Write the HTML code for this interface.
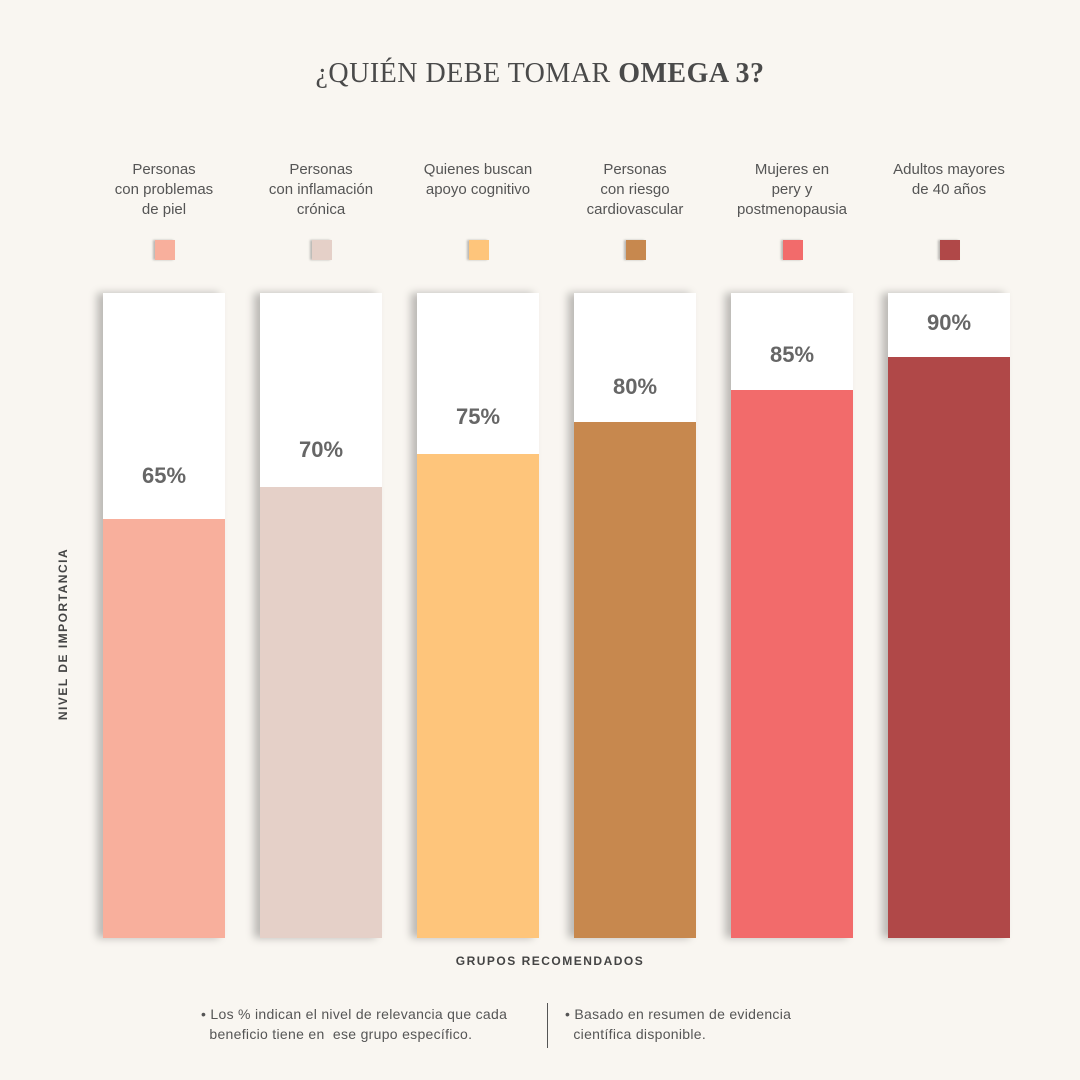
<!DOCTYPE html>
<html><head><meta charset="utf-8"><style>
*{margin:0;padding:0;box-sizing:border-box}
body{width:1080px;height:1080px;position:relative;overflow:hidden;background:#f9f6f1;font-family:"Liberation Sans",sans-serif;color:#555}
.t{position:absolute;left:0;width:1080px;top:58px;text-align:center;font-family:"Liberation Serif",serif;font-size:28px;color:#4a4a4a;letter-spacing:0.5px}
.lab{position:absolute;top:160px;width:150px;text-align:center;font-size:15px;line-height:20px;color:#555}
.sq{position:absolute;top:240px;width:20px;height:20px;box-shadow:-2px 0 2px rgba(0,0,0,0.25)}
.bar{position:absolute;top:293px;width:122px;height:645px;background:#fff;box-shadow:-6px 0 8px rgba(0,0,0,0.25)}
.bar .f{position:absolute;left:0;right:0;bottom:0}
.bar .p{position:absolute;left:0;right:0;text-align:center;font-size:22px;font-weight:bold;color:#666}
.yl{position:absolute;left:63px;top:634px;transform:translate(-50%,-50%) rotate(-90deg);font-size:12px;font-weight:bold;letter-spacing:1.5px;color:#444;white-space:nowrap}
.xl{position:absolute;top:954px;left:0;width:1100px;text-align:center;font-size:12px;font-weight:bold;letter-spacing:1.5px;color:#444}
.n{position:absolute;top:1004px;font-size:14px;line-height:20px;color:#555;letter-spacing:0.3px}
</style></head><body>
<div class="t">¿QUIÉN DEBE TOMAR <b>OMEGA 3?</b></div>

<div class="lab" style="left:89px">Personas<br>con problemas<br>de piel</div>
<div class="lab" style="left:246px">Personas<br>con inflamación<br>crónica</div>
<div class="lab" style="left:403px">Quienes buscan<br>apoyo cognitivo</div>
<div class="lab" style="left:560px">Personas<br>con riesgo<br>cardiovascular</div>
<div class="lab" style="left:717px">Mujeres en<br>pery y<br>postmenopausia</div>
<div class="lab" style="left:874px">Adultos mayores<br>de 40 años</div>

<div class="sq" style="left:155px;background:#f8af9c"></div>
<div class="sq" style="left:312px;background:#e5d0c8"></div>
<div class="sq" style="left:469px;background:#fec57b"></div>
<div class="sq" style="left:626px;background:#c7884e"></div>
<div class="sq" style="left:783px;background:#f26b6b"></div>
<div class="sq" style="left:940px;background:#b04848"></div>

<div class="bar" style="left:103px"><div class="p" style="top:170px">65%</div><div class="f" style="height:419px;background:#f8af9c"></div></div>
<div class="bar" style="left:260px"><div class="p" style="top:144px">70%</div><div class="f" style="height:451px;background:#e5d0c8"></div></div>
<div class="bar" style="left:417px"><div class="p" style="top:111px">75%</div><div class="f" style="height:484px;background:#fec57b"></div></div>
<div class="bar" style="left:574px"><div class="p" style="top:81px">80%</div><div class="f" style="height:516px;background:#c7884e"></div></div>
<div class="bar" style="left:731px"><div class="p" style="top:49px">85%</div><div class="f" style="height:548px;background:#f26b6b"></div></div>
<div class="bar" style="left:888px"><div class="p" style="top:17px">90%</div><div class="f" style="height:581px;background:#b04848"></div></div>

<div class="yl">NIVEL DE IMPORTANCIA</div>
<div class="xl">GRUPOS RECOMENDADOS</div>

<div class="n" style="left:201px">• Los % indican el nivel de relevancia que cada<br>&nbsp;&nbsp;beneficio tiene en&nbsp; ese grupo específico.</div>
<div style="position:absolute;left:547px;top:1003px;width:1px;height:45px;background:#555"></div>
<div class="n" style="left:565px">• Basado en resumen de evidencia<br>&nbsp;&nbsp;científica disponible.</div>
</body></html>
